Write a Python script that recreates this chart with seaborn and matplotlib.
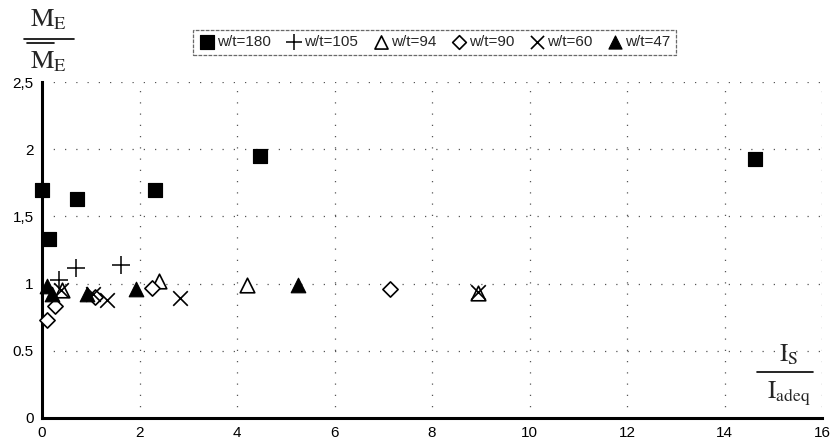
import numpy as np
import pandas as pd
import seaborn as sns
import matplotlib.pyplot as plt

# values (x = Is/Iadeq, y = ME/ME_bar)
wt180_x = [0.0, 0.14, 0.72, 2.32, 4.47, 14.63]
wt180_y = [1.70, 1.33, 1.63, 1.70, 1.95, 1.93]

wt105_x = [0.35, 0.70, 1.62]
wt105_y = [1.03, 1.12, 1.14]

wt94_x = [0.40, 2.40, 4.20, 8.95]
wt94_y = [0.95, 1.02, 0.99, 0.93]

wt90_x = [0.10, 0.27, 1.09, 2.25, 7.14]
wt90_y = [0.73, 0.83, 0.90, 0.97, 0.96]

wt60_x = [0.38, 1.05, 1.33, 2.83, 8.95]
wt60_y = [0.95, 0.92, 0.88, 0.89, 0.94]

wt47_x = [0.10, 0.20, 0.93, 1.93, 5.25]
wt47_y = [0.98, 0.92, 0.92, 0.96, 0.99]

series_labels = ["w/t=180", "w/t=105", "w/t=94", "w/t=90", "w/t=60", "w/t=47"]

x_ticks = [0, 2, 4, 6, 8, 10, 12, 14, 16]
y_ticks = [0, 0.5, 1, 1.5, 2, 2.5]
y_tick_labels = ["0", "0.5", "1", "1,5", "2", "2,5"]

data = [(wt180_x, wt180_y), (wt105_x, wt105_y), (wt94_x, wt94_y),
        (wt90_x, wt90_y), (wt60_x, wt60_y), (wt47_x, wt47_y)]

styles = [
    dict(marker="s", s=110, color="black", edgecolor="black"),
    dict(marker="+", s=150, color="black", linewidth=1.1),
    dict(marker="^", s=110, facecolor="white", edgecolor="black", linewidth=1.2),
    dict(marker="D", s=60, facecolor="white", edgecolor="black", linewidth=1.2),
    dict(marker="x", s=110, color="black", linewidth=1.2),
    dict(marker="^", s=110, color="black", edgecolor="black"),
]

sns.set_style("white")
plt.rcParams["font.family"] = ["Liberation Sans", "DejaVu Sans"]
plt.rcParams["mathtext.fontset"] = "stix"

fig = plt.figure(figsize=(8.32, 4.46), dpi=100)
ax = fig.add_axes([0.0505, 0.0628, 0.9375, 0.753])

for (xs, ys), lab, st in zip(data, series_labels, styles):
    df = pd.DataFrame({"x": xs, "y": ys})
    sns.scatterplot(data=df, x="x", y="y", ax=ax, label=lab, zorder=3,
                    clip_on=False, **st)

ax.set_xlim(0, 16)
ax.set_ylim(0, 2.5)
ax.set_xticks(x_ticks)
ax.set_yticks(y_ticks)
ax.set_yticklabels(y_tick_labels)
ax.set_xlabel("")
ax.set_ylabel("")
ax.grid(True, linestyle=(0, (1, 8)), color="#555555", linewidth=0.9)
ax.tick_params(axis="both", direction="in", length=4, width=1.5,
               labelsize=11, colors="black", pad=6)
ax.tick_params(axis="x", pad=6)
for sp in ["top", "right"]:
    ax.spines[sp].set_visible(False)
for sp in ["left", "bottom"]:
    ax.spines[sp].set_linewidth(2.2)
    ax.spines[sp].set_color("black")

leg = ax.legend(loc="center", bbox_to_anchor=(0.522, 0.905), bbox_transform=fig.transFigure,
                ncol=6, frameon=True, fancybox=False, fontsize=11,
                handletextpad=0.05, columnspacing=0.9, borderpad=0.35,
                handlelength=1.2, markerscale=0.9)
leg.get_frame().set_edgecolor("#444444")
leg.get_frame().set_linestyle((0, (3, 1)))
leg.get_frame().set_linewidth(0.9)

# y label: ME over ME-bar
fig.text(0.058, 0.955, r"$\mathrm{M_E}$", fontsize=19, ha="center", va="center")
fig.add_artist(plt.Line2D([0.029, 0.089], [0.912, 0.912], color="black", linewidth=1.2))
fig.add_artist(plt.Line2D([0.032, 0.065], [0.903, 0.903], color="black", linewidth=1.2))
fig.text(0.058, 0.862, r"$\mathrm{M_E}$", fontsize=19, ha="center", va="center")

# x label: Is over Iadeq
fig.text(0.948, 0.205, r"$\mathrm{I_S}$", fontsize=18, ha="center", va="center")
fig.add_artist(plt.Line2D([0.91, 0.977], [0.166, 0.166], color="black", linewidth=1.2))
fig.text(0.948, 0.116, r"$\mathrm{I_{adeq}}$", fontsize=18, ha="center", va="center")

fig.savefig("out.png", dpi=100)
